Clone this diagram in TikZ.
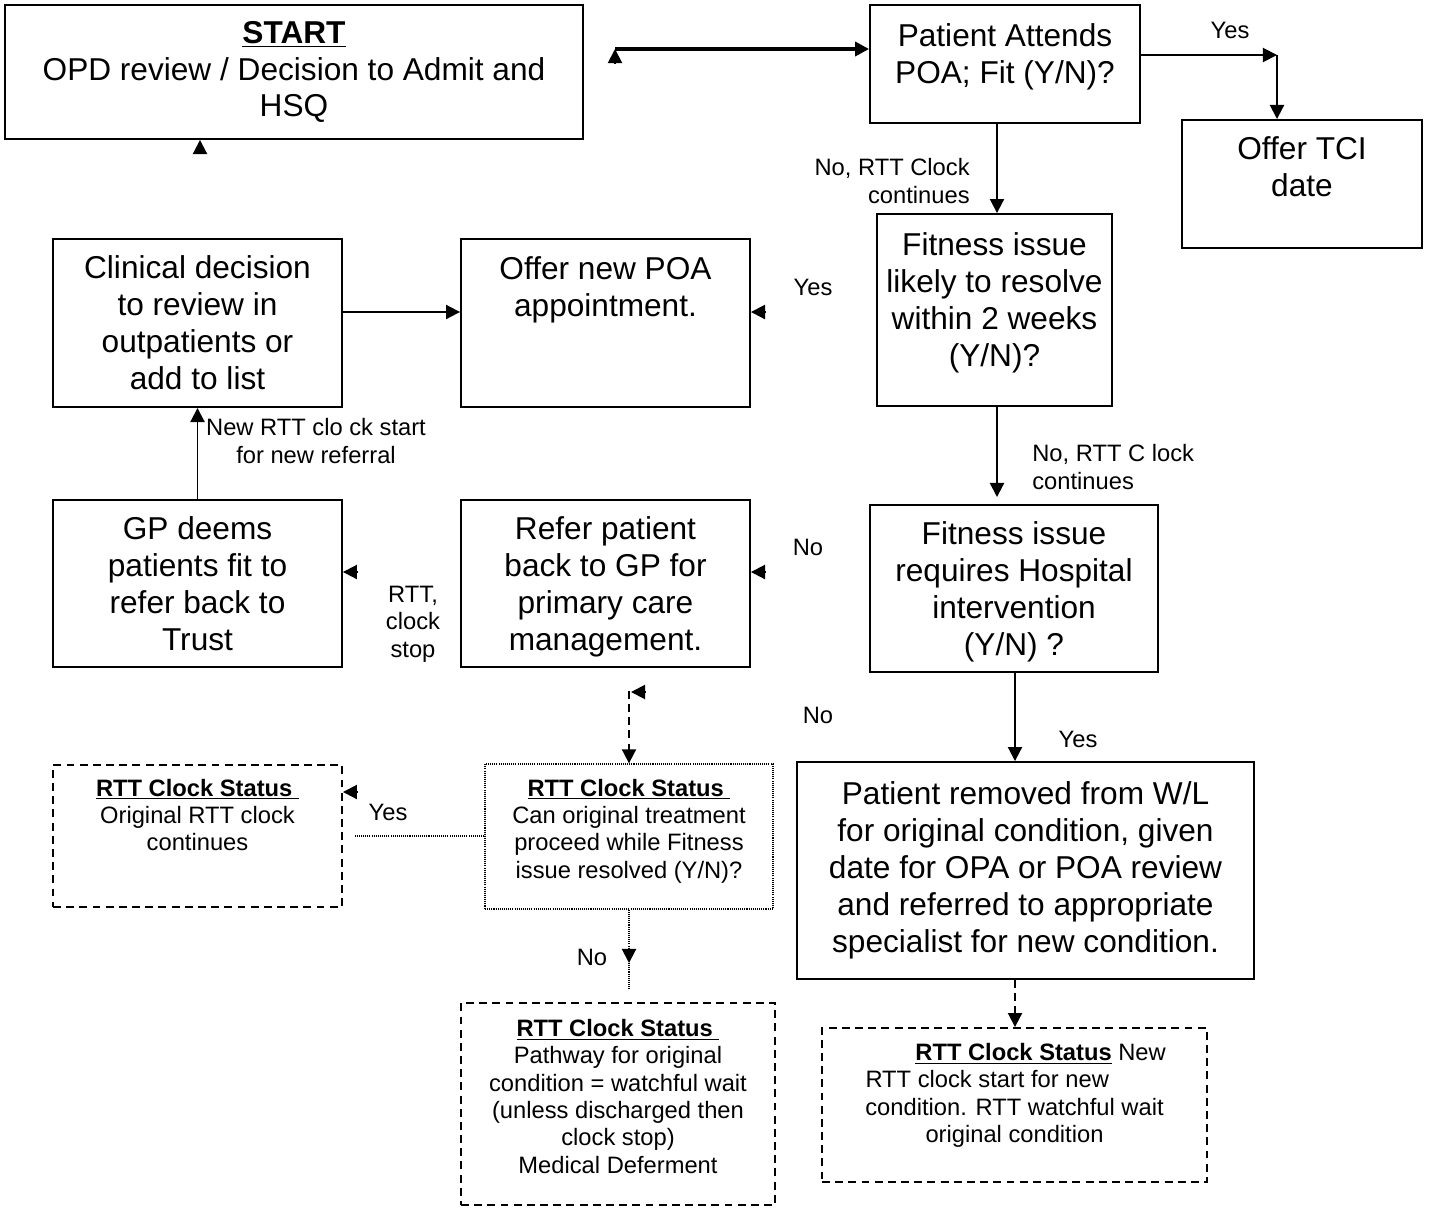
\documentclass[tikz,border=0pt]{standalone}
\usepackage{fontspec}
\setmainfont{Liberation Sans}
\usepackage{tikz}
\usetikzlibrary{arrows.meta}
\newcommand{\bigtxt}{\fontsize{18}{21}\selectfont}
\newcommand{\smalltxt}{\fontsize{13.5}{15.6}\selectfont}
\newcommand{\clockhead}{\underline{\textbf{RTT Clock Status}\ }}
\tikzset{
  flowbox/.style={rectangle, draw=black, line width=1.1pt, font=\bigtxt, align=center},
  notebox/.style={rectangle, draw=black, line width=1.1pt, dash pattern=on 4.5pt off 3pt, font=\smalltxt, align=center},
  askstyle/.style={rectangle, draw=black, line width=0.8pt, dash pattern=on 0.6pt off 0.6pt, font=\smalltxt, align=center},
  arrow/.style={-{Triangle[length=8pt, width=8pt]}, line width=1.1pt},
  thickarrow/.style={-{Triangle[length=8pt, width=8pt]}, line width=2.3pt},
  dasharrow/.style={arrow, dash pattern=on 4.5pt off 3pt},
  tiponly/.style={-{Triangle[length=8pt, width=8pt]}, line width=1.1pt},
  dotline/.style={line width=0.8pt, dash pattern=on 0.6pt off 0.6pt},
  lbl/.style={font=\smalltxt, align=center, inner sep=0pt}
}
\begin{document}
\begin{tikzpicture}[x=0.02cm, y=-0.02cm]
  \useasboundingbox (0,0) rectangle (1432,1207);

  % Main boxes
  \node[flowbox, minimum width=11.56cm, minimum height=2.68cm] (start) at (294,72) {\underline{\textbf{START}}\\OPD review / Decision to Admit and\\HSQ};
  \node[flowbox, minimum width=5.4cm, minimum height=2.36cm, text depth=11.5pt] (poa) at (1005,64) {Patient Attends\\POA; Fit (Y/N)?};
  \node[flowbox, minimum width=4.8cm, minimum height=2.56cm, text depth=20pt] (tci) at (1302,184) {Offer TCI\\date};
  \node[flowbox, minimum width=4.7cm, minimum height=3.84cm, text depth=11.6pt] (fitone) at (994.5,310) {Fitness issue\\likely to resolve\\within 2 weeks\\(Y/N)?};
  \node[flowbox, minimum width=5.78cm, minimum height=3.36cm, text depth=41.7pt] (offer) at (605.5,323) {Offer new POA\\appointment.};
  \node[flowbox, minimum width=5.78cm, minimum height=3.36cm] (clinical) at (197.5,323) {Clinical decision\\to review in\\outpatients or\\add to list};
  \node[flowbox, minimum width=5.78cm, minimum height=3.34cm, text depth=-2pt] (gp) at (197.5,583.5) {GP deems\\patients fit to\\refer back to\\Trust};
  \node[flowbox, minimum width=5.78cm, minimum height=3.34cm, text depth=-1.3pt] (refer) at (605.5,583.5) {Refer patient\\back to GP for\\primary care\\management.};
  \node[flowbox, minimum width=5.76cm, minimum height=3.34cm, text depth=-2.6pt] (fittwo) at (1014,588.5) {Fitness issue\\requires Hospital\\intervention\\(Y/N) ?};
  \node[flowbox, minimum width=9.14cm, minimum height=4.34cm] (removed) at (1025.5,870.5) {Patient removed from W/L\\for original condition, given\\date for OPA or POA review\\and referred to appropriate\\specialist for new condition.};

  % Clock status boxes
  \node[notebox, minimum width=5.78cm, minimum height=2.84cm, text depth=24pt] (keepbox) at (197.5,836) {\clockhead\\Original RTT clock\\continues};
  \node[askstyle, minimum width=5.76cm, minimum height=2.9cm, text depth=9pt] (askbox) at (629,836.5) {\clockhead\\Can original treatment\\proceed while Fitness\\issue resolved (Y/N)?};
  \node[notebox, minimum width=6.28cm, minimum height=4.04cm, text depth=9pt] (waitbox) at (618,1104) {\clockhead\\Pathway for original\\condition = watchful wait\\(unless discharged then\\clock stop)\\Medical Deferment};
  \node[notebox, minimum width=7.7cm, minimum height=3.08cm, text depth=14pt] (newbox) at (1014.5,1105) {\hspace*{2.2em}\underline{\textbf{RTT Clock Status}} New\\RTT clock start for new\hbox to 2.3em{}\\condition. RTT watchful wait\\original condition};

  % Helper points
  \coordinate (topleft) at (615,49);
  \coordinate (upbase) at (615,63);
  \coordinate (yescorner) at (1277,55);
  \coordinate (colR) at (997,0);
  \coordinate (colS) at (1015,0);
  \coordinate (yesrow) at (0,312);
  \coordinate (norow) at (0,572);
  \coordinate (yesbase) at (766,312);
  \coordinate (nobase) at (766,572);
  \coordinate (stopbase) at (358,572);
  \coordinate (startbase) at (200,153);
  \coordinate (refertip) at (631,692);
  \coordinate (referbase) at (645,692);
  \coordinate (keepbase) at (358,792);
  \coordinate (dotend) at (355,836);
  \coordinate (askmid) at (629,963);
  \coordinate (askend) at (629,990);

  % Connectors
  \draw[thickarrow] (topleft) -- (topleft -| poa.west);
  \draw[tiponly] (upbase) -- (topleft);
  \draw[arrow] (poa.east |- yescorner) -- (yescorner);
  \draw[arrow] (yescorner) -- (yescorner |- tci.north);
  \draw[arrow] (colR |- poa.south) -- (colR |- fitone.north);
  \draw[arrow, shorten >=4pt] (colR |- fitone.south) -- (colR |- fittwo.north);
  \draw[arrow] (colS |- fittwo.south) -- (colS |- removed.north);
  \draw[dasharrow] (colS |- removed.south) -- (colS |- newbox.north);
  \draw[arrow] (clinical.east |- yesrow) -- (offer.west |- yesrow);
  \draw[arrow] (gp) -- (clinical);
  \draw[tiponly] (yesbase) -- (yesbase -| offer.east);
  \draw[tiponly] (nobase) -- (nobase -| refer.east);
  \draw[tiponly] (stopbase) -- (stopbase -| gp.east);
  \draw[tiponly] (startbase) -- (startbase |- start.south);
  \draw[dasharrow, shorten <=13pt] (askbox.north |- refer.south) -- (askbox.north);
  \draw[tiponly] (referbase) -- (refertip);
  \draw[tiponly] (keepbase) -- (keepbase -| keepbox.east);
  \draw[dotline] (askbox.west |- dotend) -- (dotend);
  \draw[dotline, tiponly] (askbox.south) -- (askmid);
  \draw[dotline] (askmid) -- (askend);

  % Labels
  \node[lbl] (yesa) at (1230,30) {Yes};
  \node[lbl, anchor=east, align=right] (noa) at (970,181) {No, RTT Clock\\continues};
  \node[lbl] (yesb) at (813,287) {Yes};
  \node[lbl, anchor=west, align=left] (nob) at (1032,467) {No, RTT C lock\\continues};
  \node[lbl] (newref) at (316,441) {New RTT clo ck start\\for new referral};
  \node[lbl] (noc) at (808,547) {No};
  \node[lbl] (stopc) at (413,624) {RTT,\\clock\\stop};
  \node[lbl] (nod) at (818,715) {No};
  \node[lbl] (yesd) at (1078,739) {Yes};
  \node[lbl] (yese) at (388,812) {Yes};
  \node[lbl] (noe) at (592,957) {No};
\end{tikzpicture}
\end{document}
